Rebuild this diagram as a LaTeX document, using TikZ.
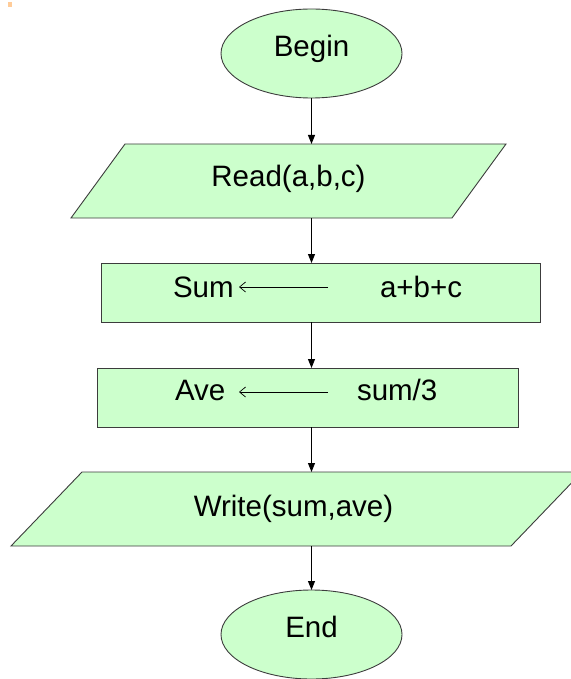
\documentclass[tikz,border=0pt]{standalone}
\usepackage{fontspec}
\setmainfont{Liberation Sans}
\usetikzlibrary{shapes.geometric,arrows.meta}
\pgfdeclarelayer{bg}
\pgfsetlayers{bg,main}
\definecolor{boxfill}{RGB}{204,255,204}
\definecolor{edgecol}{RGB}{60,60,60}
\definecolor{markcol}{RGB}{255,204,153}
\tikzset{
  lbl/.style={font=\fontsize{29.5}{35}\selectfont, text height=20pt, text depth=14pt, inner sep=0pt, outer sep=0pt},
  term/.style={lbl, ellipse, draw=edgecol, fill=boxfill, line width=0.9pt, minimum width=181pt, minimum height=89pt},
  procbox/.style={lbl, rectangle, draw=edgecol, fill=boxfill, line width=0.9pt, minimum height=59pt},
  iobox/.style={lbl, rectangle, minimum height=74pt},
  ioshape/.style={draw=edgecol, fill=boxfill, line width=0.9pt, line join=miter},
  flow/.style={line width=0.9pt, -{Triangle[length=9pt,width=7pt]}},
  asg/.style={line width=0.7pt, -{Straight Barb[length=6pt,width=10pt]}},
  txt/.style={font=\fontsize{29.5}{35}\selectfont, inner sep=0pt, outer sep=0pt, anchor=base west}
}
\begin{document}
\begin{tikzpicture}[x=1pt,y=-1pt]
\useasboundingbox (0,0) rectangle (570,679);
\fill[markcol] (8,2) rectangle (12,7);

\node[term] (start) at (311.5,53.5) {Begin};
\node[iobox, minimum width=381pt, text height=24pt] (read) at (288.5,181) {Read(a,b,c)};
\node[procbox, minimum width=439pt] (sum) at (320.5,292.5) {};
\node[procbox, minimum width=421pt] (ave) at (307.5,397.5) {};
\node[iobox, minimum width=500pt, text height=28pt] (write) at (296.5,509) {Write(sum,ave)\kern6pt};
\node[term] (stop) at (311.5,634.5) {End};

\begin{pgfonlayer}{bg}
\draw[ioshape] ([xshift=27pt]read.north west) -- ([xshift=27pt]read.north east)
  -- ([xshift=-27pt]read.south east) -- ([xshift=-27pt]read.south west) -- cycle;
\draw[ioshape] ([xshift=35.5pt]write.north west) -- ([xshift=35.5pt]write.north east)
  -- ([xshift=-35.5pt]write.south east) -- ([xshift=-35.5pt]write.south west) -- cycle;
\end{pgfonlayer}

\node[txt] (sumL) at (173,297) {Sum};
\node[txt] (sumR) at (380,297) {a+b+c};
\coordinate (sumT) at (328,287);
\draw[asg] (sumT) -- (239,287);

\node[txt] (aveL) at (175,400) {Ave};
\node[txt] (aveR) at (357,400) {sum/3};
\coordinate (aveT) at (328,392);
\draw[asg] (aveT) -- (239,392);

\draw[flow] (start.south) -- (start.south |- read.north);
\draw[flow] (start |- read.south) -- (start |- sum.north);
\draw[flow] (start |- sum.south) -- (start |- ave.north);
\draw[flow] (start |- ave.south) -- (start |- write.north);
\draw[flow] (start |- write.south) -- (stop.north);
\end{tikzpicture}
\end{document}
